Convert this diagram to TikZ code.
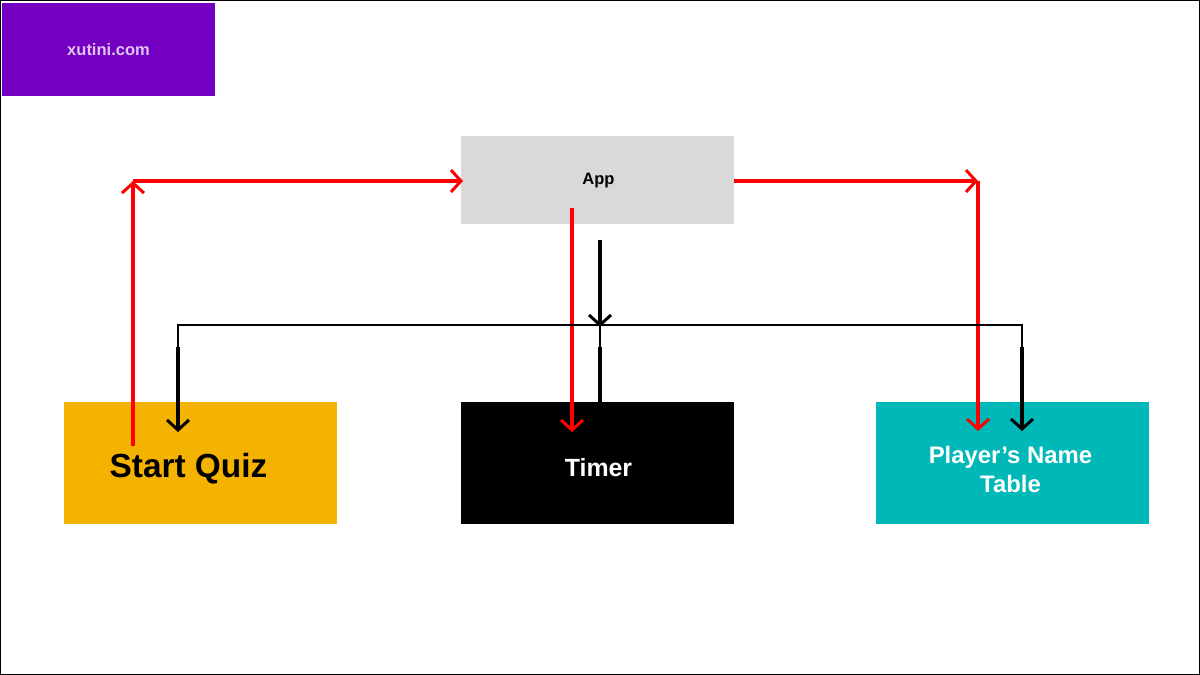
\documentclass[tikz,border=0pt]{standalone}
\usepackage{fontspec}
\setmainfont{Liberation Sans}
\usetikzlibrary{arrows.meta}
\definecolor{purp}{HTML}{7300C0}
\definecolor{lav}{HTML}{E2C4F2}
\definecolor{appgray}{HTML}{D9D9D9}
\definecolor{quizyel}{HTML}{F3B300}
\definecolor{tealc}{HTML}{00B8B8}
\definecolor{redc}{HTML}{FF0000}
\tikzset{
  box/.style={draw=none, minimum width=273pt, minimum height=122pt, inner sep=0pt, align=center, font=\bfseries},
  redarrow/.style={draw=redc, line width=3.2pt, -{Straight Barb[length=10pt,width=22pt,line width=3pt]}},
  blackarrow/.style={draw=black, line width=3.2pt, -{Straight Barb[length=10pt,width=22pt,line width=3pt]}},
  thinline/.style={draw=black, line width=1.2pt},
}
\begin{document}
\begin{tikzpicture}[x=1pt,y=-1pt]
\useasboundingbox (0,0) rectangle (1200,675);
\draw[line width=1.2pt] (0.6,0.6) rectangle (1199.4,674.4);
% logo
\node[fill=purp, minimum width=213pt, minimum height=93pt, inner sep=0pt, text=lav, font=\bfseries\fontsize{16.5}{20}\selectfont] (logo) at (108.5,49.5) {xutini.com};
% boxes
\node[box, fill=appgray, minimum height=88pt] (app) at (597.5,180) {};
\node[font=\bfseries\fontsize{16.5}{20}\selectfont] (apptext) at (598.5,181) {App};
\node[box, fill=quizyel] (quiz) at (200.5,463) {};
\node[font=\bfseries\fontsize{33.4}{40}\selectfont] (quiztext) at (188.5,469) {Start Quiz};
\node[box, fill=black] (timer) at (597.5,463) {};
\node[text=white, font=\bfseries\fontsize{24.9}{30}\selectfont] (timertext) at (598.5,468) {Timer};
\node[box, fill=tealc] (player) at (1012.5,463) {};
\node[text=white, align=center, font=\bfseries\fontsize{23.9}{29}\selectfont] (playertext) at (1010.5,469) {Player’s Name\\Table};
% coordinates
\coordinate (qs) at (133,446);
\coordinate (qc) at (133,181);
\coordinate (ain) at (463,181);
\coordinate (aout) at (734,181);
\coordinate (pc) at (978,181);
\coordinate (pe) at (978,431);
\coordinate (as) at (572,208);
\coordinate (te) at (572,432);
\coordinate (bs) at (600,240);
\coordinate (be) at (600,327);
\coordinate (hl) at (178,325);
\coordinate (hr) at (1022,325);
\coordinate (ql) at (178,347);
\coordinate (qe) at (178,432);
\coordinate (pl) at (1022,347);
\coordinate (pbe) at (1022,431);
\coordinate (tm) at (600,325);
\coordinate (tl) at (600,347);
\coordinate (tt) at (600,402);
% red connectors
\draw[redarrow] (qs) -- (qc);
\draw[redarrow] (qc) -- (ain);
\draw[redarrow] (aout) -- (pc);
\draw[redarrow] (pc) -- (pe);
\draw[redarrow] (as) -- (te);
% black connectors
\draw[blackarrow] (bs) -- (be);
\draw[thinline] (ql) -- (hl) -- (hr) -- (pl);
\draw[thinline] (tm) -- (tl);
\draw[blackarrow] (ql) -- (qe);
\draw[blackarrow] (pl) -- (pbe);
\draw[line width=3.2pt] (tl) -- (tt);
\end{tikzpicture}
\end{document}
